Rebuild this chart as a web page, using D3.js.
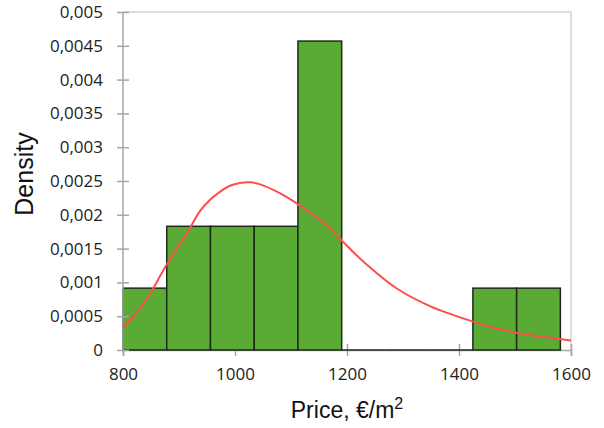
<!DOCTYPE html>
<html>
<head>
<meta charset="utf-8">
<script src="https://cdn.jsdelivr.net/npm/d3@7"></script>
<style>
  html, body { margin: 0; padding: 0; background: #fff; }
  svg { display: block; }
</style>
</head>
<body>
<svg id="svg"></svg>
<script>
// histogram bins (price, EUR/m2) and their density
const binEdges = [800, 878.1, 956.2, 1034.3, 1112.4, 1190.5, 1268.6, 1346.7, 1424.8, 1502.9, 1581];
const densities = [0.000915, 0.00183, 0.00183, 0.00183, 0.00457, 0, 0, 0, 0.000915, 0.000915];

// fitted density curve
const curveX = [800, 830, 854, 872, 896, 920, 937, 955, 973, 991, 1009, 1027, 1045, 1080, 1110, 1140, 1170, 1193, 1229, 1289, 1348, 1425, 1455, 1502, 1600];
const curveY = [0.00034, 0.00061, 0.00091, 0.00118, 0.00150, 0.00181, 0.00205, 0.00222, 0.00234, 0.00243, 0.00247, 0.00248, 0.00245, 0.00232, 0.00217, 0.00200, 0.00180, 0.00160, 0.00131, 0.00091, 0.00065, 0.00042, 0.000345, 0.000256, 0.00014];

const xTicks = [800, 1000, 1200, 1400, 1600];
const yTicks = [0, 0.0005, 0.001, 0.0015, 0.002, 0.0025, 0.003, 0.0035, 0.004, 0.0045, 0.005];
const yTickLabels = ['0', '0,0005', '0,001', '0,0015', '0,002', '0,0025', '0,003', '0,0035', '0,004', '0,0045', '0,005'];

const width = 604, height = 428;
const margin = {top: 12, right: 33, bottom: 78, left: 123};
const innerW = width - margin.left - margin.right;
const innerH = height - margin.top - margin.bottom;

const svg = d3.select('#svg').attr('width', width).attr('height', height);
const g = svg.append('g').attr('transform', `translate(${margin.left},${margin.top})`);

const x = d3.scaleLinear().domain([800, 1600]).range([0, innerW]);
const y = d3.scaleLinear().domain([0, 0.005]).range([innerH, 0]);

// plot area border (top and right)
g.append('path')
  .attr('d', `M0,0H${innerW}V${innerH}`)
  .attr('fill', 'none')
  .attr('stroke', '#d4d4d4')
  .attr('stroke-width', 1.5);

const bins = densities.map((d, i) => ({x0: binEdges[i], x1: binEdges[i + 1], d: d}));

// x axis
const xAxis = g.append('g')
  .attr('transform', `translate(0,${innerH})`)
  .call(d3.axisBottom(x).tickValues(xTicks).tickSize(6).tickPadding(12).tickFormat(d3.format('d')));
xAxis.select('.domain').attr('stroke', '#a6a6a6').attr('stroke-width', 1.5);
xAxis.selectAll('.tick line').attr('y1', -6).attr('stroke', '#a6a6a6').attr('stroke-width', 1.5);

// bars
g.selectAll('.bar')
  .data(bins.filter(b => b.d > 0))
  .enter()
  .append('rect')
  .attr('class', 'bar')
  .attr('x', d => x(d.x0))
  .attr('y', d => y(d.d))
  .attr('width', d => x(d.x1) - x(d.x0))
  .attr('height', d => innerH - y(d.d))
  .attr('fill', '#5aab33')
  .attr('stroke', '#1f2a1a')
  .attr('stroke-width', 1.5);

// zero-height bins show as a line on the baseline
g.selectAll('.zero')
  .data(bins.filter(b => b.d === 0))
  .enter()
  .append('line')
  .attr('x1', d => x(d.x0))
  .attr('x2', d => x(d.x1))
  .attr('y1', y(0))
  .attr('y2', y(0))
  .attr('stroke', '#1f2a1a')
  .attr('stroke-width', 1.5);

// y axis
const yAxis = g.append('g')
  .call(d3.axisLeft(y).tickValues(yTicks).tickSize(6).tickPadding(14)
    .tickFormat((d, i) => yTickLabels[i]));
yAxis.select('.domain').attr('d', `M0,0V${innerH + 2}`).attr('stroke', '#a6a6a6').attr('stroke-width', 1.5);
yAxis.selectAll('.tick line').attr('x1', 6).attr('stroke', '#a6a6a6').attr('stroke-width', 1.5);

svg.selectAll('.tick text')
  .attr('font-family', '"Open Sans", sans-serif')
  .attr('font-size', 17)
  .attr('fill', '#222');

// fitted curve
const pts = curveX.map((v, i) => [v, curveY[i]]);
g.append('path')
  .datum(pts)
  .attr('fill', 'none')
  .attr('stroke', '#ff4d4d')
  .attr('stroke-width', 2)
  .attr('d', d3.line().x(d => x(d[0])).y(d => y(d[1])).curve(d3.curveCatmullRom));

// axis titles
svg.append('text')
  .attr('transform', `translate(33,${174}) rotate(-90)`)
  .attr('text-anchor', 'middle')
  .attr('font-family', '"Liberation Sans", Arial, sans-serif')
  .attr('font-size', 25)
  .attr('fill', '#111')
  .text('Density');

const xt = svg.append('text')
  .attr('x', 347)
  .attr('y', 418)
  .attr('text-anchor', 'middle')
  .attr('font-family', '"Liberation Sans", Arial, sans-serif')
  .attr('font-size', 23)
  .attr('fill', '#111');
xt.append('tspan').text('Price, €/m');
xt.append('tspan').attr('dy', -9).attr('font-size', 16).text('2');
</script>
</body>
</html>
